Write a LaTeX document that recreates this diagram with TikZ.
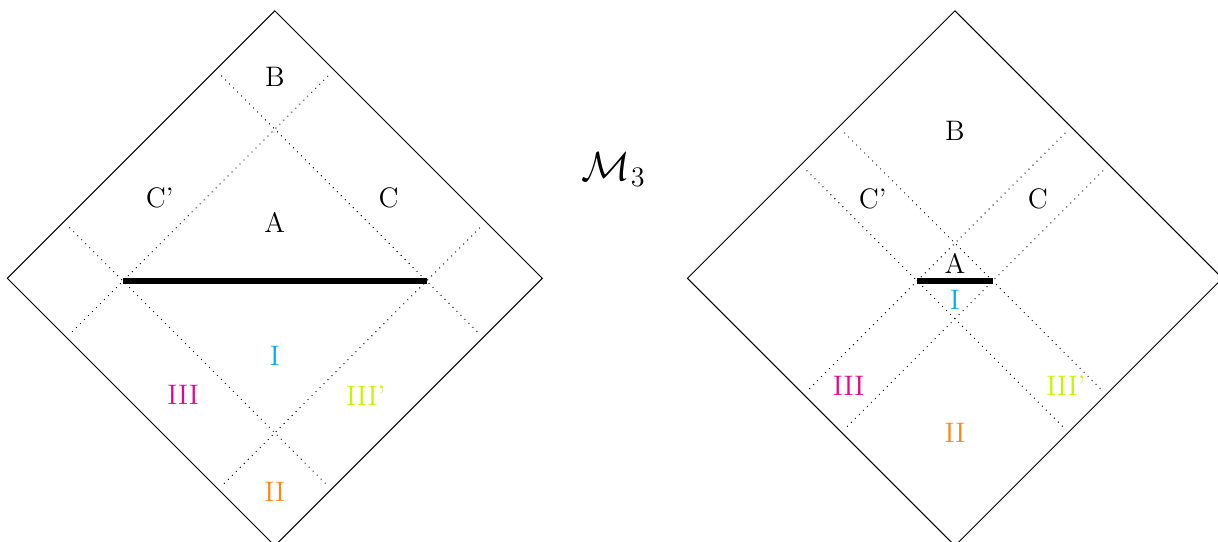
\documentclass[tikz,border=0pt]{standalone}
\usepackage{amsmath,amssymb,amsfonts}
\usepackage{tikz}
\usetikzlibrary{calc,positioning}
\usepackage{xcolor}
\definecolor{regI}{HTML}{00AEEF}
\definecolor{regII}{HTML}{FF8515}
\definecolor{regIII}{HTML}{EC008C}
\definecolor{regIIIp}{HTML}{C3F500}

\begin{document}
\begin{tikzpicture}[
  boundary/.style={draw=black, line width=0.4pt},
  horizon/.style={dotted, black},
  slice/.style={line width=2.4pt, black},
  region/.style={font=\large, inner sep=1pt},
]
  \useasboundingbox (-4.109,-3.928) rectangle (14.104,4.162);
  % Left diagram: wide slice
  \draw[boundary] (-4,0) -- (0,4) -- (4,0) -- (0,-4) -- cycle;
  \draw[horizon] (-3.07,0.76) -- (0.76,-3.07);
  \draw[horizon] (-0.80,3.03) -- (3.03,-0.80);
  \draw[horizon] (-3.03,-0.80) -- (0.80,3.03);
  \draw[horizon] (-0.76,-3.07) -- (3.07,0.76);
  \coordinate (l1) at (-2.27,-0.04);
  \coordinate (r1) at (2.27,-0.04);
  \draw[slice] (l1) -- (r1);
  \node[region] (B1) at (0,3.01) {B};
  \node[region] (Cp1) at (-1.72,1.20) {C'};
  \node[region] (C1) at (1.70,1.20) {C};
  \node[region] (A1) at (0,0.83) {A};
  \node[region, text=regI] (I1) at (0,-1.16) {I};
  \node[region, text=regIII] (III1) at (-1.37,-1.75) {III};
  \node[region, text=regIIIp] (IIIp1) at (1.36,-1.75) {III'};
  \node[region, text=regII] (II1) at (0,-3.20) {II};
  % Label in the middle
  \node[font=\fontsize{16.5}{19}\selectfont] (M3) at (5.07,1.62) {$\mathcal{M}_3$};
  % Right diagram: short slice
  \begin{scope}[xshift=10.17cm]
    \draw[boundary] (-4,0) -- (0,4) -- (4,0) -- (0,-4) -- cycle;
    \draw[horizon] (-2.2175,1.6125) -- (1.6125,-2.2175);
    \draw[horizon] (-1.6525,2.1775) -- (2.1775,-1.6525);
    \draw[horizon] (-2.1775,-1.6525) -- (1.6525,2.1775);
    \draw[horizon] (-1.6125,-2.2175) -- (2.2175,1.6125);
    \coordinate (l2) at (-0.565,-0.04);
    \coordinate (r2) at (0.565,-0.04);
    \draw[slice] (l2) -- (r2);
    \node[region] (B2) at (0,2.20) {B};
    \node[region] (Cp2) at (-1.23,1.19) {C'};
    \node[region] (C2) at (1.24,1.19) {C};
    \node[region] (A2) at (0,0.23) {A};
    \node[region, text=regI] (I2) at (0,-0.32) {I};
    \node[region, text=regIII] (III2) at (-1.59,-1.61) {III};
    \node[region, text=regIIIp] (IIIp2) at (1.66,-1.61) {III'};
    \node[region, text=regII] (II2) at (0,-2.31) {II};
  \end{scope}
\end{tikzpicture}
\end{document}
